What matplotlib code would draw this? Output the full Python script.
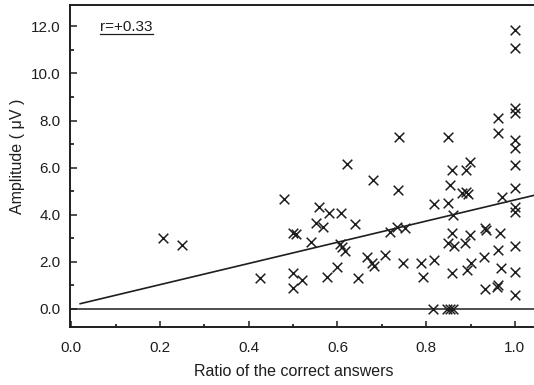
import matplotlib
matplotlib.use("Agg")
import matplotlib.pyplot as plt
import numpy as np
from matplotlib.lines import Line2D

plt.rcParams['font.family'] = ['Liberation Sans', 'DejaVu Sans']

# Data
ratio = [0.207, 0.250, 0.425, 0.479, 0.500, 0.506, 0.500, 0.520, 0.500, 0.540,
         0.551, 0.567, 0.558, 0.581, 0.608, 0.639, 0.576, 0.599, 0.605, 0.610,
         0.617, 0.621, 0.646, 0.666, 0.677, 0.682, 0.680, 0.707, 0.718, 0.734,
         0.752, 0.736, 0.739, 0.748, 0.788, 0.793, 0.817, 0.817, 0.849, 0.860,
         0.854, 0.849, 0.858, 0.890, 0.899, 0.881, 0.890, 0.894, 0.858, 0.849,
         0.863, 0.887, 0.899, 0.901, 0.892, 0.858, 0.932, 0.935, 0.930, 0.932,
         0.966, 0.962, 0.968, 0.959, 0.962, 0.971, 0.962, 0.962,
         1.0, 1.0, 1.0, 1.0, 1.0, 1.0, 1.0, 1.0, 1.0, 1.0, 1.0, 1.0, 1.0,
         0.815, 0.847, 0.853, 0.860]
amplitude = [3.00, 2.70, 1.30, 4.66, 3.21, 3.17, 1.51, 1.21, 0.87, 2.83,
             3.64, 3.47, 4.34, 4.06, 4.06, 3.60, 1.34, 1.77, 2.74, 2.62,
             2.45, 6.15, 1.30, 2.19, 1.94, 1.81, 5.47, 2.28, 3.26, 3.47,
             3.43, 5.04, 7.30, 1.94, 1.94, 1.34, 2.06, 4.45, 4.49, 3.98,
             5.26, 7.30, 5.89, 5.89, 6.23, 4.91, 4.96, 4.87, 3.21, 2.79,
             2.66, 2.79, 3.13, 1.94, 1.64, 1.51, 3.43, 3.34, 2.19, 0.83,
             3.21, 2.49, 1.72, 0.91, 1.00, 4.74, 8.11, 7.47,
             11.85, 11.09, 8.53, 8.32, 7.17, 6.83, 6.11, 5.13, 4.32, 4.11, 2.66, 1.55, 0.57,
             0.0, 0.0, 0.0, 0.0]

fit_intercept = 0.13
fit_slope = 4.5
fit_x = [0.02, 1.06]

x_ticks = [0.0, 0.2, 0.4, 0.6, 0.8, 1.0]
x_ticklabels = ['0.0', '0.2', '0.4', '0.6', '0.8', '1.0']
y_ticks = [0.0, 2.0, 4.0, 6.0, 8.0, 10.0, 12.0]
y_ticklabels = ['0.0', '2.0', '4.0', '6.0', '8.0', '10.0', '12.0']
r_text = 'r=+0.33'

W, H = 534, 385
fig = plt.figure(figsize=(W / 100, H / 100), dpi=100)
left, right, top, bottom = 70, 534, 5, 327
ax = fig.add_axes([left / W, 1 - bottom / H, (right - left) / W, (bottom - top) / H])

ink = '#1e1e1e'
ax.scatter(ratio, amplitude, marker='x', s=48, color=ink, linewidths=1.1, zorder=3)

fx = np.array(fit_x)
ax.plot(fx, fit_intercept + fit_slope * fx, color=ink, lw=1.2, zorder=2)
ax.axhline(0.0, color=ink, lw=1.1, zorder=2)

ax.set_xlim(-0.003, 1.043)
ax.set_ylim(-0.77, 12.91)

ax.set_xticks(x_ticks)
ax.set_xticklabels(x_ticklabels)
ax.set_xticks(np.arange(0.1, 1.0, 0.2), minor=True)
ax.set_yticks(y_ticks)
ax.set_yticklabels(y_ticklabels)
ax.set_yticks(np.arange(1.0, 12.5, 2.0), minor=True)

ax.tick_params(axis='x', which='major', direction='in', length=4, width=1.1,
               pad=10, labelsize=11, colors=ink)
ax.tick_params(axis='x', which='minor', direction='in', length=2.5, width=1.1)
ax.tick_params(axis='y', which='major', direction='in', length=5, width=1.1,
               pad=7, labelsize=11, colors=ink)
ax.tick_params(axis='y', which='minor', direction='in', length=3, width=1.1)

for s in ['left', 'bottom', 'top']:
    ax.spines[s].set_linewidth(1.4)
    ax.spines[s].set_color(ink)
ax.spines['right'].set_visible(False)

fig.text(18 / W, 1 - 156 / H, 'Amplitude ( μV )', fontsize=11.5, color=ink,
         rotation=90, ha='center', va='center')
fig.text(294 / W, 1 - 371 / H, 'Ratio of the correct answers', fontsize=11.5,
         color=ink, ha='center', va='center')

t = fig.text(100 / W, 1 - 27 / H, r_text, fontsize=11, color=ink,
             ha='left', va='center')
fig.canvas.draw()
bb = t.get_window_extent()
fig.add_artist(Line2D([bb.x0 / W, bb.x1 / W], [(bb.y0 + 0.5) / H, (bb.y0 + 0.5) / H],
                      color=ink, lw=0.9, transform=fig.transFigure))

fig.savefig('out.png', dpi=100)
